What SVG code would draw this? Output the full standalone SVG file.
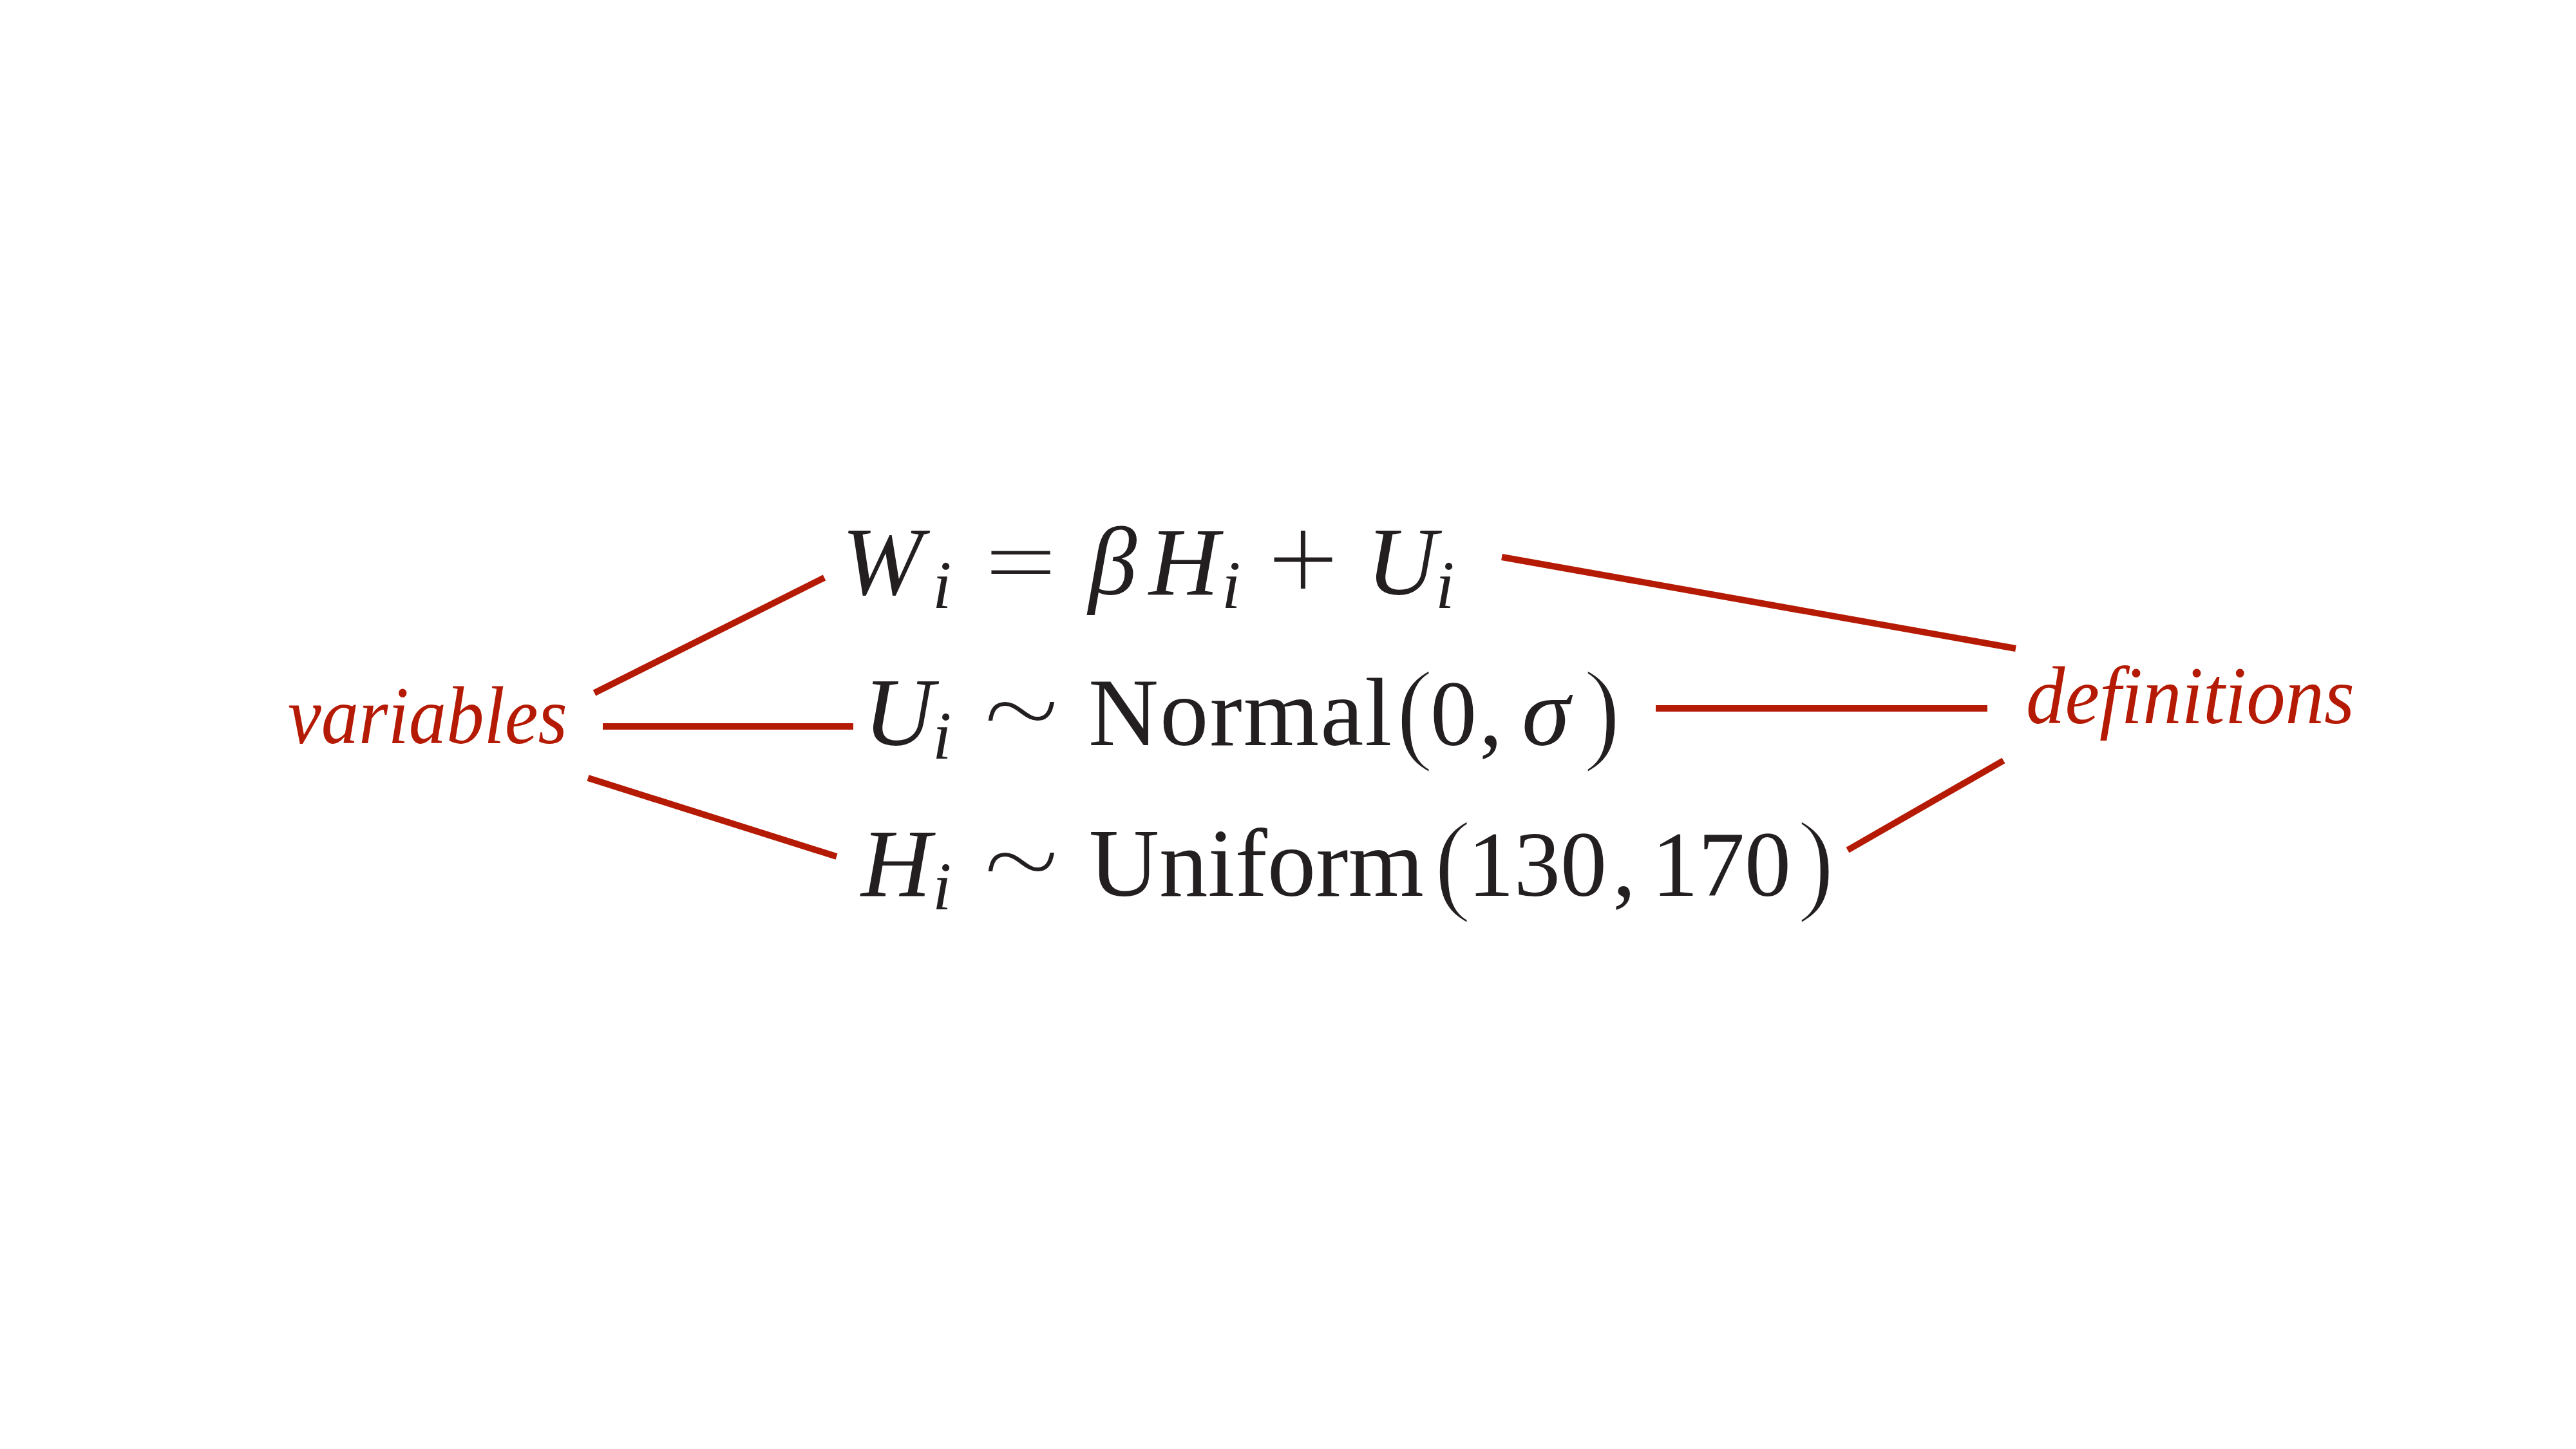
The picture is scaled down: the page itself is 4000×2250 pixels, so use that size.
<svg xmlns="http://www.w3.org/2000/svg" width="4000" height="2250" viewBox="0 0 4000 2250">
<style>
.m { font-family: "Liberation Serif", "Times New Roman", serif; fill: #231f20; font-size: 151px; }
.it { font-style: italic; }
.sub { font-style: italic; font-size: 106px; }
.dg { font-size: 144px; }
.par { font-size: 178px; stroke: #ffffff; stroke-width: 4px; }
.thin { stroke: #ffffff; stroke-width: 3px; }
.lbl { font-family: "Liberation Serif", "Times New Roman", serif; font-style: italic; fill: #b51a05; font-size: 126px; }
.c { stroke: #b51a05; stroke-width: 10; fill: none; stroke-linecap: butt; }
</style>
<rect width="4000" height="2250" fill="#ffffff"/>
<g id="connectors">
  <line class="c" x1="923" y1="1076" x2="1280" y2="897"/>
  <line class="c" x1="936" y1="1128" x2="1325" y2="1128"/>
  <line class="c" x1="913" y1="1208" x2="1299" y2="1330"/>
  <line class="c" x1="2332" y1="865" x2="3130" y2="1007"/>
  <line class="c" x1="2571" y1="1100" x2="3086" y2="1100"/>
  <line class="c" x1="2869" y1="1320" x2="3111" y2="1181"/>
</g>
<g id="variables">
  <text class="lbl" x="447" y="1154" textLength="434" lengthAdjust="spacingAndGlyphs">variables</text>
</g>
<g id="definitions">
  <text class="lbl" x="3146" y="1123" textLength="510" lengthAdjust="spacingAndGlyphs">definitions</text>
</g>
<g id="eq-w">
  <text class="m it" x="1307" y="923">W</text>
  <text class="m sub" x="1448" y="944">i</text>
  <text class="m thin" x="1528" y="923" textLength="114" lengthAdjust="spacingAndGlyphs" style="stroke-width:2px">=</text>
  <text class="m it" x="1690" y="923">β</text>
  <text class="m it" x="1784" y="923">H</text>
  <text class="m sub" x="1897" y="944">i</text>
  <text class="m thin" x="1967" y="935" style="font-size:200px">+</text>
  <text class="m it" x="2122" y="923">U</text>
  <text class="m sub" x="2229" y="944">i</text>
</g>
<g id="eq-u">
  <text class="m it" x="1341" y="1157">U</text>
  <text class="m sub" x="1448" y="1178">i</text>
  <text class="m thin" x="1526" y="1170" style="font-size:200px;stroke-width:4px" textLength="120" lengthAdjust="spacingAndGlyphs">~</text>
  <text class="m" x="1690" y="1157" letter-spacing="2">Normal</text>
  <text class="m par" x="2167" y="1163">(</text>
  <text class="m dg" x="2221" y="1157">0</text>
  <text class="m dg" x="2297" y="1157">,</text>
  <text class="m it" x="2363" y="1157">σ</text>
  <text class="m par" x="2458" y="1163">)</text>
</g>
<g id="eq-h">
  <text class="m it" x="1337" y="1391">H</text>
  <text class="m sub" x="1448" y="1412">i</text>
  <text class="m thin" x="1526" y="1404" style="font-size:200px;stroke-width:4px" textLength="120" lengthAdjust="spacingAndGlyphs">~</text>
  <text class="m" x="1691" y="1391">Uniform</text>
  <text class="m par" x="2226" y="1397">(</text>
  <text class="m dg" x="2279" y="1391">130</text>
  <text class="m dg" x="2504" y="1391">,</text>
  <text class="m dg" x="2565" y="1391">170</text>
  <text class="m par" x="2790" y="1397">)</text>
</g>
</svg>
